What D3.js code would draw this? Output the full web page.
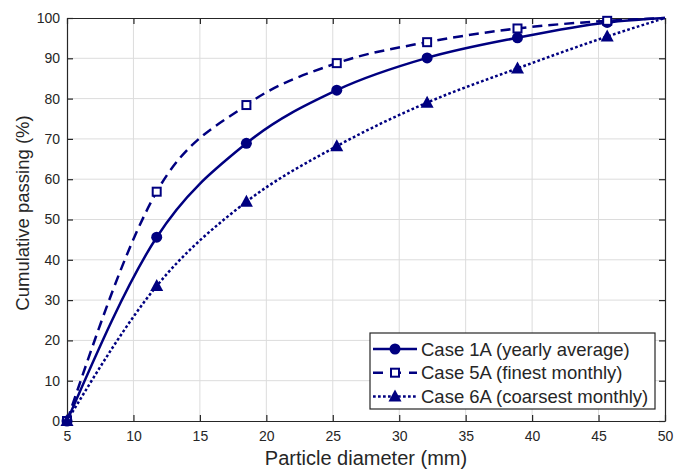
<!DOCTYPE html>
<html>
<head>
<meta charset="utf-8">
<script src="https://cdn.jsdelivr.net/npm/d3@7"></script>
<style>
  body { margin: 0; background: #fff; }
  text { font-family: "Liberation Sans", Arial, sans-serif; fill: #262626; }
</style>
</head>
<body>
<script>
// sieve sizes (mm) and cumulative passing (%)
const diameters = [5, 11.75, 18.5, 25.3, 32.1, 38.9, 45.65, 50];
const case1A = [0, 45.6, 68.9, 82.1, 90.1, 95.1, 98.9, 100];
const case5A = [0, 56.9, 78.4, 88.8, 94.0, 97.4, 99.3, 100];
const case6A = [0, 33.5, 54.4, 68.2, 79.0, 87.5, 95.4, 100];

const xTicks = [5, 10, 15, 20, 25, 30, 35, 40, 45, 50];
const yTicks = [0, 10, 20, 30, 40, 50, 60, 70, 80, 90, 100];

const seriesNames = [
  'Case 1A (yearly average)',
  'Case 5A (finest monthly)',
  'Case 6A (coarsest monthly)'
];

let width = 675;
let height = 471;
let margin = { top: 18, right: 10, bottom: 50, left: 67 };
const navy = '#000080';

let x = d3.scaleLinear()
  .domain([5, 50])
  .range([margin.left, width - margin.right]);

let y = d3.scaleLinear()
  .domain([0, 100])
  .range([height - margin.bottom, margin.top]);

let svg = d3.select('body')
  .append('svg')
  .attr('width', width)
  .attr('height', height);

// 网格线
svg.append('g')
  .selectAll('line')
  .data(xTicks.slice(1, -1))
  .join('line')
  .attr('x1', d => x(d)).attr('x2', d => x(d))
  .attr('y1', y(0)).attr('y2', y(100))
  .attr('stroke', '#dcdcdc').attr('stroke-width', 1);

svg.append('g')
  .selectAll('line')
  .data(yTicks.slice(1, -1))
  .join('line')
  .attr('x1', x(5)).attr('x2', x(50))
  .attr('y1', d => y(d)).attr('y2', d => y(d))
  .attr('stroke', '#dcdcdc').attr('stroke-width', 1);

// axes, ticks inward like matlab
let axisStyle = g => {
  g.select('.domain').attr('stroke', '#262626').attr('stroke-width', 1.2);
  g.selectAll('.tick line').attr('stroke', '#262626').attr('stroke-width', 1.2);
  g.selectAll('.tick text').attr('font-size', 14).attr('fill', '#262626')
    .attr('font-family', '"Liberation Sans", Arial, sans-serif');
};

svg.append('g')
  .attr('transform', `translate(0,${y(0)})`)
  .call(d3.axisBottom(x).tickValues(xTicks).tickSize(-6).tickSizeOuter(0).tickPadding(10))
  .call(axisStyle);

svg.append('g')
  .attr('transform', `translate(0,${y(100)})`)
  .call(d3.axisTop(x).tickValues(xTicks).tickSize(-6).tickSizeOuter(0).tickFormat(''))
  .call(axisStyle);

svg.append('g')
  .attr('transform', `translate(${x(5)},0)`)
  .call(d3.axisLeft(y).tickValues(yTicks).tickSize(-6).tickSizeOuter(0).tickPadding(7))
  .call(axisStyle);

svg.append('g')
  .attr('transform', `translate(${x(50)},0)`)
  .call(d3.axisRight(y).tickValues(yTicks).tickSize(-6).tickSizeOuter(0).tickFormat(''))
  .call(axisStyle);

// axis titles
svg.append('text')
  .attr('x', (x(5) + x(50)) / 2)
  .attr('y', 465)
  .attr('text-anchor', 'middle')
  .attr('font-size', 20)
  .text('Particle diameter (mm)');

svg.append('text')
  .attr('transform', `translate(29,213) rotate(-90)`)
  .attr('text-anchor', 'middle')
  .attr('font-size', 18.5)
  .text('Cumulative passing (%)');

// 曲线
const series = [
  { name: seriesNames[0], values: case1A, dash: null, marker: 'circle' },
  { name: seriesNames[1], values: case5A, dash: '10,6', marker: 'square' },
  { name: seriesNames[2], values: case6A, dash: '2.7,2.3', marker: 'triangle' }
];

let line = d3.line()
  .x(d => x(d[0]))
  .y(d => y(d[1]))
  .curve(d3.curveMonotoneX);

function drawMarker(g, type, cx, cy) {
  if (type === 'circle') {
    g.append('circle').attr('cx', cx).attr('cy', cy).attr('r', 5.5)
      .attr('fill', navy);
  } else if (type === 'square') {
    g.append('rect').attr('x', cx - 4).attr('y', cy - 4)
      .attr('width', 8).attr('height', 8)
      .attr('fill', '#fff').attr('stroke', navy).attr('stroke-width', 2);
  } else {
    g.append('path')
      .attr('d', `M${cx},${cy - 7}L${cx + 6.5},${cy + 5}L${cx - 6.5},${cy + 5}Z`)
      .attr('fill', navy);
  }
}

series.forEach(s => {
  const pts = diameters.map((d, i) => [d, s.values[i]]);
  svg.append('path')
    .datum(pts)
    .attr('fill', 'none')
    .attr('stroke', navy)
    .attr('stroke-width', 2.5)
    .attr('stroke-dasharray', s.dash)
    .attr('d', line);
  const mg = svg.append('g');
  pts.slice(0, -1).forEach(p => drawMarker(mg, s.marker, x(p[0]), y(p[1])));
});

// legend
let lg = svg.append('g').attr('transform', 'translate(370,333)');
lg.append('rect')
  .attr('width', 285).attr('height', 76)
  .attr('fill', '#fff').attr('stroke', '#262626').attr('stroke-width', 1.2);

series.forEach((s, i) => {
  const cy = 16 + i * 23.7;
  lg.append('line')
    .attr('x1', 3).attr('x2', 47).attr('y1', cy).attr('y2', cy)
    .attr('stroke', navy).attr('stroke-width', 2.5)
    .attr('stroke-dasharray', s.marker === 'square' ? '10,8' : s.dash);
  drawMarker(lg, s.marker, 25, cy);
  lg.append('text')
    .attr('x', 51).attr('y', cy + 6.5)
    .attr('font-size', 18.5)
    .text(s.name);
});
</script>
</body>
</html>
